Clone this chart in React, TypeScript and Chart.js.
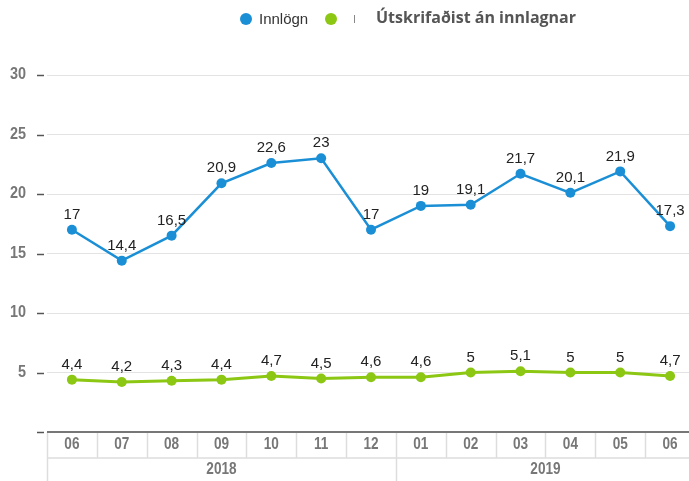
import React, { useEffect, useRef } from "react";
import { Chart, registerables } from "chart.js";

Chart.register(...registerables);

const months = ["06", "07", "08", "09", "10", "11", "12", "01", "02", "03", "04", "05", "06"];
const years = [
  { label: "2018", from: 0, to: 6 },
  { label: "2019", from: 7, to: 12 },
];
const innlogn = [17, 14.4, 16.5, 20.9, 22.6, 23, 17, 19, 19.1, 21.7, 20.1, 21.9, 17.3];
const utskrifadist = [4.4, 4.2, 4.3, 4.4, 4.7, 4.5, 4.6, 4.6, 5, 5.1, 5, 5, 4.7];
const yTicks = [5, 10, 15, 20, 25, 30];

const BLUE = "#1b8fd6";
const GREEN = "#8cc714";

const CANVAS_W = 695;
const CANVAS_H = 481;

const fmt = (v: number) => String(v).replace(".", ",");

function narrowText(ctx: CanvasRenderingContext2D, s: string, x: number, y: number, k = 0.85) {
  ctx.save();
  ctx.translate(x, y);
  ctx.scale(k, 1);
  ctx.fillText(s, 0, 0);
  ctx.restore();
}

const overlay = {
  id: "overlay",
  afterDatasetsDraw(chart: any) {
    const ctx = chart.ctx as CanvasRenderingContext2D;
    const x = chart.scales.x;
    const y = chart.scales.y;
    const area = chart.chartArea;
    ctx.save();

    // y labels and tick dashes
    ctx.font = "bold 16px Arial, 'Liberation Sans', sans-serif";
    ctx.fillStyle = "#777";
    ctx.textAlign = "right";
    ctx.textBaseline = "middle";
    for (const t of yTicks) {
      const py = y.getPixelForValue(t);
      narrowText(ctx, String(t), 26, py, 0.9);
    }
    ctx.strokeStyle = "#555";
    ctx.lineWidth = 1.5;
    for (const t of [0, ...yTicks]) {
      const py = Math.round(y.getPixelForValue(t)) + 0.5;
      ctx.beginPath();
      ctx.moveTo(37, py);
      ctx.lineTo(44, py);
      ctx.stroke();
    }

    // table
    const top = y.getPixelForValue(0);
    const rowMid = 458;
    const bottom = chart.height;
    const half = (x.getPixelForValue(1) - x.getPixelForValue(0)) / 2;
    ctx.strokeStyle = "#ddd";
    ctx.lineWidth = 1.5;
    ctx.beginPath();
    ctx.moveTo(area.left, rowMid);
    ctx.lineTo(area.right, rowMid);
    ctx.stroke();
    for (let i = 0; i <= months.length; i++) {
      const px = Math.round(i < months.length ? x.getPixelForValue(i) - half : area.right) + 0.5;
      ctx.beginPath();
      ctx.moveTo(px, top);
      ctx.lineTo(px, rowMid);
      ctx.stroke();
    }
    for (const yr of years) {
      const px = Math.round(x.getPixelForValue(yr.from) - half) + 0.5;
      ctx.beginPath();
      ctx.moveTo(px, rowMid);
      ctx.lineTo(px, bottom);
      ctx.stroke();
    }
    ctx.strokeStyle = "#777";
    ctx.lineWidth = 2;
    ctx.beginPath();
    ctx.moveTo(area.left, Math.round(top));
    ctx.lineTo(area.right, Math.round(top));
    ctx.stroke();

    ctx.font = "bold 16px Arial, 'Liberation Sans', sans-serif";
    ctx.fillStyle = "#777";
    ctx.textAlign = "center";
    months.forEach((m, i) => narrowText(ctx, m, x.getPixelForValue(i), 445));
    for (const yr of years) {
      const cx = (x.getPixelForValue(yr.from) - half + x.getPixelForValue(yr.to) + half) / 2;
      narrowText(ctx, yr.label, cx, 470);
    }

    // data labels
    ctx.font = "15px Arial, 'Liberation Sans', sans-serif";
    ctx.fillStyle = "#222";
    ctx.textBaseline = "middle";
    chart.data.datasets.forEach((ds: any, di: number) => {
      const meta = chart.getDatasetMeta(di);
      meta.data.forEach((pt: any, i: number) => {
        ctx.fillText(fmt(ds.data[i]), pt.x, pt.y - 15);
      });
    });

    // legend
    ctx.textAlign = "left";
    ctx.fillStyle = BLUE;
    ctx.beginPath();
    ctx.arc(246, 19, 6, 0, Math.PI * 2);
    ctx.fill();
    ctx.fillStyle = "#333";
    ctx.font = "15px Arial, 'Liberation Sans', sans-serif";
    ctx.fillText("Innlögn", 259, 20);
    ctx.fillStyle = GREEN;
    ctx.beginPath();
    ctx.arc(331, 19, 6, 0, Math.PI * 2);
    ctx.fill();
    ctx.fillStyle = "#888";
    ctx.fillRect(354, 15, 1, 8);
    ctx.fillStyle = "#555";
    ctx.font = "bold 16px 'Open Sans', 'Noto Sans', sans-serif";
    ctx.fillText("Útskrifaðist án innlagnar", 376, 18);

    ctx.restore();
  },
};

export default function App() {
  const ref = useRef<HTMLCanvasElement>(null);
  useEffect(() => {
    if (!ref.current) return;
    const chart = new Chart(ref.current, {
      type: "line",
      data: {
        labels: months,
        datasets: [
          {
            label: "Innlögn",
            data: innlogn,
            borderColor: BLUE,
            backgroundColor: BLUE,
            borderWidth: 2.5,
            pointRadius: 5,
            pointBorderWidth: 0,
            tension: 0,
          },
          {
            label: "Útskrifaðist án innlagnar",
            data: utskrifadist,
            borderColor: GREEN,
            backgroundColor: GREEN,
            borderWidth: 3,
            pointRadius: 5,
            pointBorderWidth: 0,
            tension: 0,
          },
        ],
      },
      options: {
        responsive: false,
        animation: false,
        layout: { autoPadding: false, padding: { left: 47, right: 0, top: 75, bottom: 49 } },
        plugins: { legend: { display: false }, tooltip: { enabled: false } },
        scales: {
          x: { type: "category", offset: true, display: false },
          y: {
            min: 0,
            max: 30,
            ticks: { stepSize: 5, display: false },
            grid: { color: "#e3e3e3", drawTicks: false, lineWidth: 1 },
            border: { display: false },
          },
        },
      },
      plugins: [overlay],
    });
    return () => chart.destroy();
  }, []);
  return (
    <div
      style={{ position: "absolute", left: 0, top: 0, width: 689, height: 481, overflow: "hidden" }}
    >
      <canvas
        ref={ref}
        width={CANVAS_W}
        height={CANVAS_H}
        style={{ display: "block", width: CANVAS_W, height: CANVAS_H }}
      />
    </div>
  );
}
